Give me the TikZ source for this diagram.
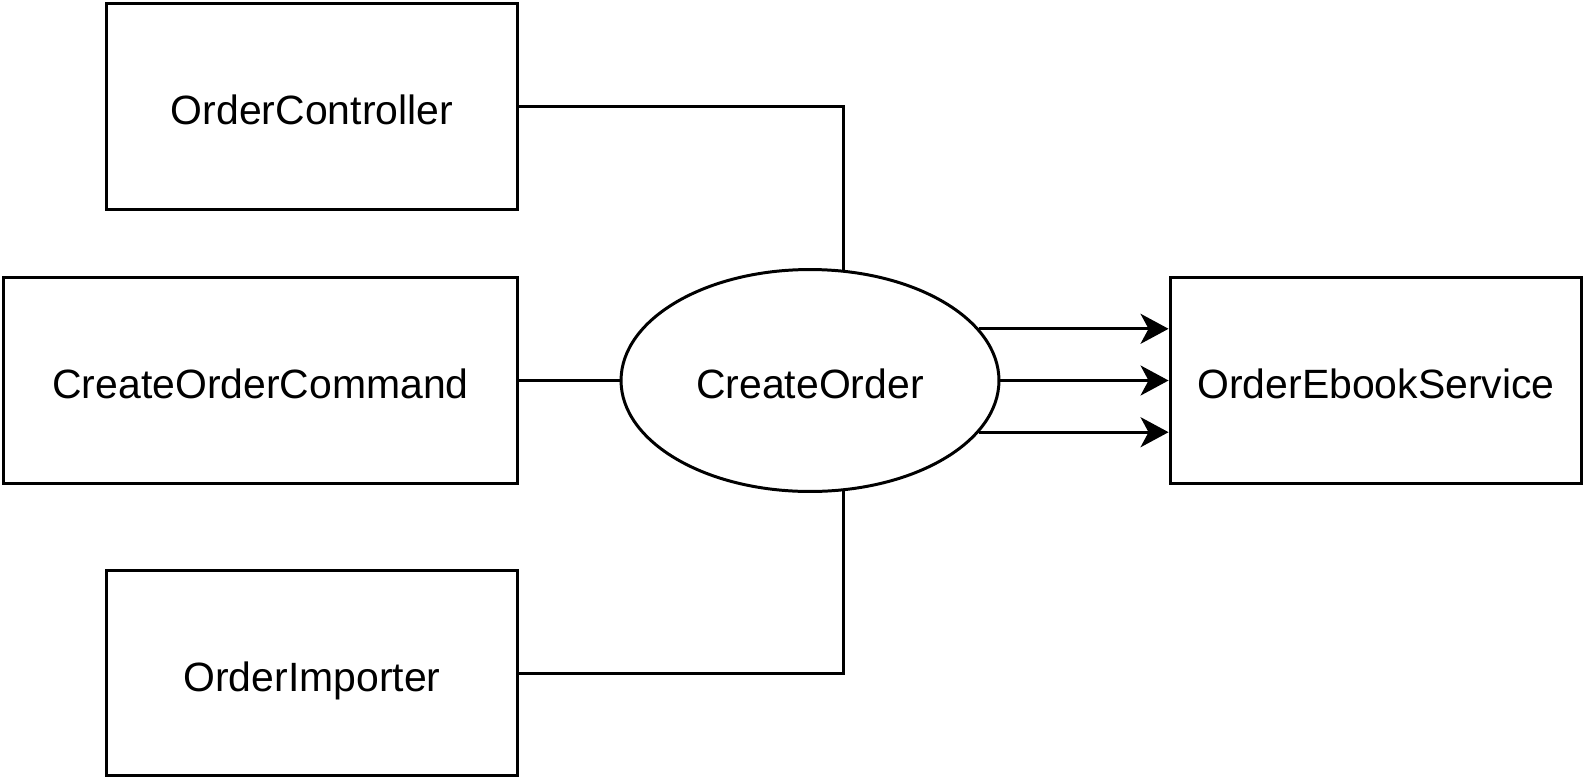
\documentclass[tikz,border=0pt]{standalone}
\usepackage{fontspec}
\setmainfont{Liberation Sans}
\usetikzlibrary{shapes.geometric,arrows.meta}

\tikzset{
  box/.style={draw,line width=1.7pt,minimum width=8.24cm,minimum height=4.12cm,inner sep=0pt,
    text height=0.72cm,text depth=0pt},
  usecase/.style={draw,ellipse,line width=1.7pt,minimum width=7.56cm,minimum height=4.44cm,inner sep=0pt,
    text height=0.72cm,text depth=0pt},
  link/.style={line width=1.7pt},
  call/.style={line width=1.7pt,-{Stealth[length=0.56cm,width=0.6cm,inset=0.16cm]}}
}

\begin{document}
\begin{tikzpicture}[x=0.02cm,y=-0.02cm,font=\fontsize{23.3}{28}\selectfont]

\useasboundingbox (0,0) rectangle (1586,778);

% Appelants
\node[box] (ctrl) at (312,106.5)
{OrderController};

\node[box] (cmd) [minimum width=10.3cm] at (260.5,380.5)
{CreateOrderCommand};

\node[box] (imp) at (312,673)
{OrderImporter};

% Cas d'utilisation
\node[usecase] (uc) at (810,380.5)
{CreateOrder};

% Service
\node[box] (svc) at (1376,380.5)
{OrderEbookService};

\draw[link]
(ctrl.east)
-|
(uc.73);

\draw[link]
(cmd.east)
--
(uc.west);

\draw[link]
(imp.east)
-|
(uc.-73);

\draw[call]
(uc.17)
--
(uc.17 -| svc.west);

\draw[call]
(uc.east)
--
(svc.west);

\draw[call]
(uc.-17)
--
(uc.-17 -| svc.west);

\end{tikzpicture}
\end{document}
